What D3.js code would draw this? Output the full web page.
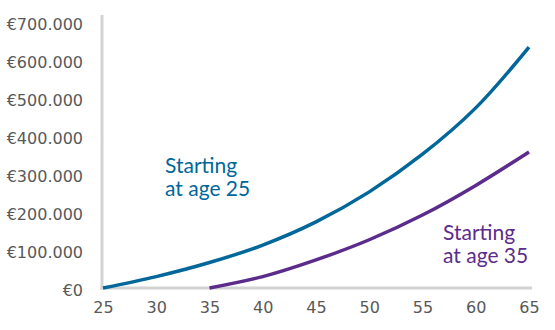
<!DOCTYPE html>
<html>
<head>
<meta charset="utf-8">
<script src="https://cdn.jsdelivr.net/npm/d3@7"></script>
<style>
  html, body { margin: 0; padding: 0; background: #ffffff; }
  svg { display: block; }
</style>
</head>
<body>
<svg id="chart" width="555" height="330"></svg>
<script>
// Pension pot by age, for saving from 25 versus saving from 35
const ages = [25, 30, 35, 40, 45, 50, 55, 60, 65];
const potFrom25 = [0, 30000, 67000, 113000, 174000, 253000, 352000, 474000, 634000];
const agesFrom35 = [35, 40, 45, 50, 55, 60, 65];
const potFrom35 = [0, 30000, 74000, 127000, 192000, 270000, 358000];
const yTicks = [0, 100000, 200000, 300000, 400000, 500000, 600000, 700000];
const xTicks = [25, 30, 35, 40, 45, 50, 55, 60, 65];

const svg = d3.select("#chart");

const x = d3.scaleLinear().domain([25, 65]).range([103, 529]);
const y = d3.scaleLinear().domain([0, 700000]).range([288, 22]);

const fmtEuro = v => "€" + d3.format(",")(v).replace(/,/g, ".");
const tickFont = "'DejaVu Sans', sans-serif";
const gray = "#595959";

// Y axis: labels only, with a light vertical rule
const yAxis = d3.axisLeft(y).tickValues(yTicks).tickFormat(fmtEuro).tickSize(0).tickPadding(19);
const gy = svg.append("g").attr("transform", "translate(102,2.5)").call(yAxis);
gy.select(".domain").remove();
gy.selectAll("text").attr("fill", gray).style("font-family", tickFont).style("font-size", "16px");

svg.append("line")
  .attr("x1", 102).attr("x2", 102).attr("y1", 15).attr("y2", y(0) + 1.5)
  .attr("stroke", "#d3d3d3").attr("stroke-width", 3);

// X axis: labels below a light horizontal rule
const xAxis = d3.axisBottom(x).tickValues(xTicks).tickFormat(d3.format("d")).tickSize(0).tickPadding(14);
const gx = svg.append("g").attr("transform", `translate(0,${y(0)})`).call(xAxis);
gx.select(".domain").remove();
gx.selectAll("text").attr("fill", gray).style("font-family", tickFont).style("font-size", "16px");

svg.append("line")
  .attr("x1", 100.5).attr("x2", 532).attr("y1", y(0)).attr("y2", y(0))
  .attr("stroke", "#d3d3d3").attr("stroke-width", 3);

// Growth curves
const line = d3.line().x(d => x(d[0])).y(d => y(d[1])).curve(d3.curveCatmullRom.alpha(0.5));

svg.append("path")
  .datum(ages.map((a, i) => [a, potFrom25[i]]))
  .attr("d", line).attr("fill", "none")
  .attr("stroke", "#00679a").attr("stroke-width", 3.5);

svg.append("path")
  .datum(agesFrom35.map((a, i) => [a, potFrom35[i]]))
  .attr("d", line).attr("fill", "none")
  .attr("stroke", "#5b2c8c").attr("stroke-width", 3.5);

// Series annotations
function note(xPos, yPos, lines, color) {
  const t = svg.append("text")
    .attr("x", xPos).attr("y", yPos)
    .attr("fill", color)
    .style("font-family", "Lato, sans-serif").style("font-size", "21px");
  lines.forEach((s, i) => t.append("tspan").attr("x", xPos).attr("dy", i === 0 ? 0 : 23).text(s));
}
note(165, 173, ["Starting", "at age 25"], "#00679a");
note(443, 240, ["Starting", "at age 35"], "#5b2c8c");
</script>
</body>
</html>
